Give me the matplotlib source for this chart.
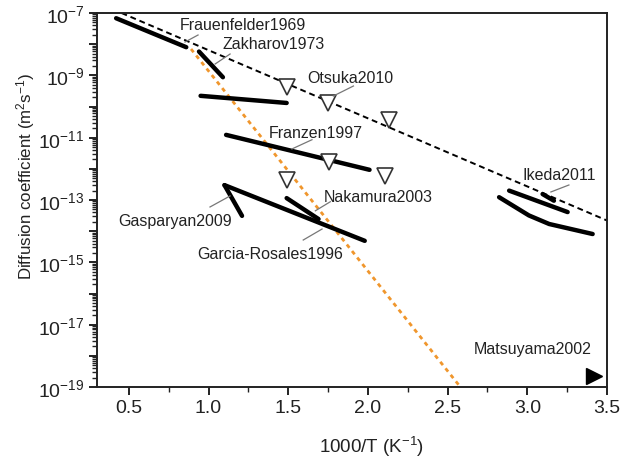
import numpy as np
import matplotlib
matplotlib.use("Agg")
import matplotlib.pyplot as plt
from matplotlib.ticker import FixedLocator, LogLocator, NullFormatter, FuncFormatter

plt.rcParams['font.family'] = ['Liberation Sans', 'DejaVu Sans']
plt.rcParams['mathtext.fontset'] = 'custom'
plt.rcParams['mathtext.rm'] = 'Liberation Sans'
plt.rcParams['mathtext.it'] = 'Liberation Sans:italic'

# data (x = 1000/T in 1/K, y = D in m^2/s)
frauenfelder_x = [0.42, 0.86]
frauenfelder_y = [6.8e-8, 8.0e-9]
zakharov_x = [0.94, 1.09]
zakharov_y = [5.8e-9, 8.7e-10]
line3_x = [0.95, 1.49]
line3_y = [2.2e-10, 1.3e-10]
franzen_x = [1.11, 2.01]
franzen_y = [1.23e-11, 9.3e-13]
gasparyan_x = [1.10, 1.21]
gasparyan_y = [3.0e-13, 3.1e-14]
garcia_x = [1.10, 1.98]
garcia_y = [3.0e-13, 4.9e-15]
nakamura_x = [1.49, 1.69]
nakamura_y = [1.15e-13, 2.45e-14]
ikeda_x = [2.886, 3.253]
ikeda_y = [2.0e-13, 4.1e-14]
ikeda2_x = [3.096, 3.167]
ikeda2_y = [1.55e-13, 9.5e-14]
low_x = [2.823, 3.01, 3.137, 3.41]
low_y = [1.23e-13, 3.2e-14, 1.7e-14, 8.1e-15]
otsuka_x = [1.49, 1.748, 2.131, 1.753, 2.11, 1.49]
otsuka_y = [4.3e-10, 1.29e-10, 3.7e-11, 1.66e-12, 5.9e-13, 4.4e-13]
matsuyama_x = [3.42]
matsuyama_y = [2.3e-19]
fit_x = [0.454, 3.5]
fit_y = [1.0e-7, 2.2e-14]
orange_x = [0.89, 2.58]
orange_y = [7.0e-9, 1.0e-19]

fig = plt.figure(figsize=(6.23, 4.64), dpi=100)
ax = fig.add_axes([0.1557, 0.1638, 0.8186, 0.806])

ax.plot(fit_x, fit_y, color='black', lw=1.4, dashes=(3, 2))
ax.plot(orange_x, orange_y, color='#f0962c', lw=2, dashes=(1.5, 1.5))

for xs, ys in [(frauenfelder_x, frauenfelder_y), (zakharov_x, zakharov_y),
               (line3_x, line3_y), (franzen_x, franzen_y),
               (gasparyan_x, gasparyan_y), (garcia_x, garcia_y),
               (nakamura_x, nakamura_y), (ikeda_x, ikeda_y),
               (ikeda2_x, ikeda2_y), (low_x, low_y)]:
    ax.plot(xs, ys, color='black', lw=3.2, solid_capstyle='round', solid_joinstyle='round')

ax.plot(otsuka_x, otsuka_y, 'v', ms=12, mfc='white', mec='#333333', mew=1.2, ls='none')
ax.plot(matsuyama_x, matsuyama_y, '>', ms=11, color='black', ls='none', clip_on=False)

# labels and pointer lines
tc = '#222222'
labels = [
    ("Frauenfelder1969", 0.821, 4.3e-8, (0.934, 1.97e-8), (0.852, 1.17e-8)),
    ("Zakharov1973", 1.085, 1.05e-8, (1.135, 4.84e-9), (1.041, 2.31e-9)),
    ("Otsuka2010", 1.618, 8.5e-10, (1.909, 4.55e-10), (1.783, 2.17e-10)),
    ("Franzen1997", 1.38, 1.45e-11, (1.649, 8.6e-12), (1.523, 4.34e-12)),
    ("Ikeda2011", 2.97, 6.6e-13, (3.261, 3.03e-13), (3.148, 1.81e-13)),
    ("Nakamura2003", 1.72, 1.3e-13, (1.764, 8.8e-14), (1.67, 4.5e-14)),
    ("Gasparyan2009", 0.431, 2.2e-14, (1.009, 5.97e-14), (1.135, 1.35e-13)),
    ("Garcia-Rosales1996", 0.928, 1.95e-15, (1.594, 5.2e-15), (1.712, 1.17e-14)),
    ("Matsuyama2002", 2.664, 1.75e-18, None, None),
]
for txt, tx, ty, p0, p1 in labels:
    ax.text(tx, ty, txt, fontsize=11.5, color=tc, ha='left', va='center')
    if p0 is not None:
        ax.plot([p0[0], p1[0]], [p0[1], p1[1]], color='#777777', lw=0.9)

ax.set_yscale('log')
ax.set_xlim(0.3, 3.5)
ax.set_ylim(1e-19, 1e-7)

ax.xaxis.set_major_locator(FixedLocator([0.5, 1.0, 1.5, 2.0, 2.5, 3.0, 3.5]))
ax.xaxis.set_minor_locator(FixedLocator([0.75, 1.25, 1.75, 2.25, 2.75, 3.25]))
ax.xaxis.set_major_formatter(FuncFormatter(lambda v, p: '%.1f' % v))

decades = [10.0 ** e for e in range(-19, -6)]
ax.yaxis.set_major_locator(FixedLocator(decades))
ax.yaxis.set_minor_locator(LogLocator(base=10, subs=np.arange(2, 10), numticks=50))
ax.yaxis.set_minor_formatter(NullFormatter())


def yfmt(v, p):
    e = int(round(np.log10(v)))
    if e % 2 == 0:
        return ''
    return r'$\mathregular{10^{%d}}$' % e


ax.yaxis.set_major_formatter(FuncFormatter(yfmt))

ax.tick_params(which='major', direction='out', length=6, width=1.4, labelsize=14, colors='#222222', pad=3)
ax.tick_params(which='minor', direction='out', length=3.5, width=1.0, colors='#222222')
ax.tick_params(top=False, right=False)
for s in ax.spines.values():
    s.set_linewidth(1.4)
    s.set_color('#222222')

ax.set_xlabel(r'1000/T (K$^{\mathregular{-1}}$)', fontsize=13.5, color=tc)
ax.set_ylabel(r'Diffusion coefficient (m$^{\mathregular{2}}$s$^{\mathregular{-1}}$)', fontsize=12.2, color=tc)
ax.xaxis.set_label_coords(0.538, -0.125)
ax.yaxis.set_label_coords(-0.118, 0.565)

fig.savefig('out.png', dpi=100)
